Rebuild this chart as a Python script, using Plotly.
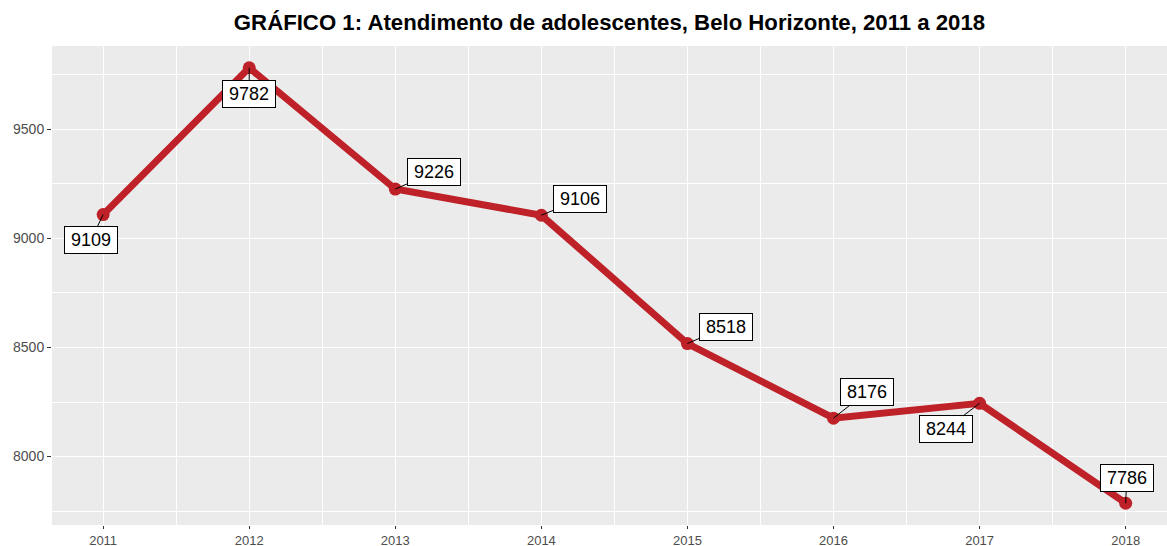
import plotly.graph_objects as go

years = [2011, 2012, 2013, 2014, 2015, 2016, 2017, 2018]
atendimentos = [9109, 9782, 9226, 9106, 8518, 8176, 8244, 7786]
y_ticks = [8000, 8500, 9000, 9500]
title = "GRÁFICO 1: Atendimento de adolescentes, Belo Horizonte, 2011 a 2018"
# label offsets (pixels) from each point, mimicking ggrepel placement
label_dx = [-12, 0, 39, 39, 39, 33, -34, 1]
label_dy = [25, 26, -17, -16, -17, -26, 26, -25]

W, H = 1167, 546
L, R, T, B = 52, 0, 46, 21
RED = "#BE2128"
FONT = "Liberation Sans, Arial, sans-serif"

fig = go.Figure()
fig.add_trace(go.Scatter(
    x=years, y=atendimentos, mode="lines+markers",
    line=dict(color=RED, width=7),
    marker=dict(color=RED, size=13),
    hoverinfo="x+y", showlegend=False, cliponaxis=False,
))

for x, y, dx, dy in zip(years, atendimentos, label_dx, label_dy):
    fig.add_annotation(
        x=x, y=y, text=str(y), showarrow=True, arrowhead=0, arrowwidth=1,
        arrowcolor="black", ax=dx, ay=dy, standoff=0,
        font=dict(family=FONT, size=18, color="black"),
        bgcolor="white", bordercolor="black", borderwidth=1, borderpad=2,
        width=48, height=22,
    )

x0 = years[0] - 0.35
span = years[-1] - years[0]
px_per_year = (1125.7 - 103.3) / span
x1 = years[0] + (W - 103.3) / px_per_year
yr = max(atendimentos) - min(atendimentos)
y0 = min(atendimentos) - 0.05 * yr
y1 = max(atendimentos) + 0.05 * yr

tickfont = dict(family=FONT, size=14, color="#4D4D4D")
xtickfont = dict(family=FONT, size=13, color="#4D4D4D")

fig.update_layout(
    width=W, height=H,
    margin=dict(l=L, r=R, t=T, b=B, pad=0, autoexpand=False),
    paper_bgcolor="white", plot_bgcolor="#EBEBEB",
    title=dict(text="<b>" + title + "</b>", x=0.5, xref="paper", xanchor="center",
               y=1 - 22 / H, yref="container", yanchor="middle", automargin=False,
               font=dict(family=FONT, size=22.2, color="black")),
    xaxis=dict(range=[x0, x1], tickvals=years, ticktext=[str(v) for v in years],
               showgrid=True, gridcolor="white", gridwidth=1.2, zeroline=False,
               ticks="outside", ticklen=3, tickcolor="#333333", tickwidth=1,
               tickfont=xtickfont, showline=False, automargin=False,
               minor=dict(dtick=0.5, tick0=2010.5, showgrid=True, gridcolor="white",
                          gridwidth=0.6, ticks="")),
    yaxis=dict(range=[y0, y1], tickvals=y_ticks, ticktext=[str(v) for v in y_ticks],
               showgrid=True, gridcolor="white", gridwidth=1.2, zeroline=False,
               ticks="outside", ticklen=4, tickcolor="#333333", tickwidth=1,
               tickfont=tickfont, showline=False, automargin=False,
               minor=dict(dtick=250, tick0=7750, showgrid=True, gridcolor="white",
                          gridwidth=0.6, ticks="")),
)

fig.write_html("out.html", config={"displayModeBar": False},
               post_script="document.body.style.margin='0';document.body.style.overflow='hidden';")
